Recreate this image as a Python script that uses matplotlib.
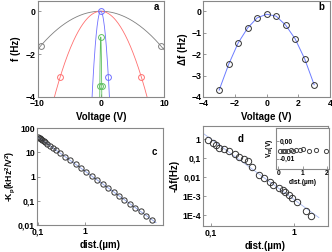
import numpy as np
import matplotlib
matplotlib.use("Agg")
import matplotlib.pyplot as plt
from matplotlib.ticker import FixedLocator, FixedFormatter, NullLocator

plt.rcParams['font.family'] = ['Liberation Sans', 'DejaVu Sans']
plt.rcParams['font.weight'] = 'bold'
plt.rcParams['mathtext.default'] = 'regular'

# ---- panel a data ----
volt_gray = [-9.45, 9.45]
f_gray = [-1.6, -1.6]
volt_red = [-6.45, 6.35]
f_red = [-3.05, -3.05]
volt_blue = [0.0, 1.2]
f_blue = [0.0, -3.05]
volt_green = [0.0, -0.15, 0.15]
f_green = [-1.2, -3.5, -3.5]

# ---- panel b data ----
volt_b = [-3.0, -2.4, -1.8, -1.2, -0.6, 0.0, 0.6, 1.2, 1.8, 2.4, 3.0]
df_b = [-3.68, -2.48, -1.48, -0.78, -0.31, -0.14, -0.23, -0.65, -1.29, -2.22, -3.43]

# ---- panel c data ----
dist_c = [0.1016, 0.1067, 0.1121, 0.1178, 0.1257, 0.134, 0.146, 0.161, 0.180, 0.208,
          0.245, 0.299, 0.375, 0.480, 0.622, 0.809, 1.05, 1.36, 1.77, 2.30,
          2.99, 3.88, 5.04, 6.54, 8.50, 11.0, 14.3, 18.9, 24.9]
kp_c = [42.7, 39.8, 37.1, 34.5, 31.5, 28.6, 25.5, 22.1, 18.8, 15.3,
        12.1, 9.14, 6.59, 4.63, 3.20, 2.20, 1.51, 1.04, 0.716, 0.492,
        0.340, 0.233, 0.161, 0.110, 0.0762, 0.0524, 0.0361, 0.0242, 0.0163]

# ---- panel d data ----
dist_d = [0.091, 0.105, 0.115, 0.126, 0.141, 0.166, 0.196, 0.218, 0.25, 0.275,
          0.31, 0.38, 0.44, 0.51, 0.56, 0.66, 0.73, 0.79, 0.87, 0.96,
          1.09, 1.40, 1.61]
df_d = [0.92, 0.62, 0.48, 0.36, 0.30, 0.25, 0.16, 0.12, 0.089, 0.069,
        0.034, 0.013, 0.0089, 0.0056, 0.0038, 0.0026, 0.0021, 0.0016, 0.0012, 0.00082,
        0.0005, 0.00017, 0.000093]

# ---- inset data ----
dist_in = [0.07, 0.18, 0.29, 0.40, 0.51, 0.62, 0.74, 0.88, 1.04, 1.29, 1.57, 1.96]
vm_in = [-0.0055, -0.0056, -0.0054, -0.0056, -0.0053, -0.0055, -0.0050, -0.0052,
         -0.0047, -0.0057, -0.0050, -0.0058]

W, H = 332, 252
fig = plt.figure(figsize=(W / 100, H / 100), dpi=100)

def box(l, t, r, b):
    return [l / W, 1 - b / H, (r - l) / W, (b - t) / H]

spine_c = '#888888'
TS = 6.3
LS = 7

def style(ax, fs=TS):
    for s in ax.spines.values():
        s.set_color(spine_c)
        s.set_linewidth(0.8)
    ax.tick_params(direction='in', length=2.5, width=0.6, color=spine_c,
                   labelsize=fs, pad=1.5)
    for lab in ax.get_xticklabels() + ax.get_yticklabels():
        lab.set_fontweight('bold')

mk = dict(marker='o', mfc='none', ls='none', mew=0.7)

# ================= panel a =================
axa = fig.add_axes(box(37.5, 0.5, 164, 97))
vv = np.linspace(-10, 10, 400)
cg = np.mean(np.array(f_gray) / np.array(volt_gray) ** 2)
cr = np.mean(np.array(f_red) / np.array(volt_red) ** 2)
cb = f_blue[1] / volt_blue[1] ** 2
pg = np.polyfit(volt_green, f_green, 2)
col_g, col_r, col_b, col_gr = '#7f7f7f', '#ff7070', '#7070ff', '#60c060'
axa.plot(vv, cg * vv ** 2, color=col_g, lw=0.6)
axa.plot(vv, cr * vv ** 2, color=col_r, lw=0.6)
axa.plot(vv, cb * vv ** 2, color=col_b, lw=0.6)
vg = np.linspace(-0.2, 0.2, 200)
axa.plot(vg, np.polyval(pg, vg), color=col_gr, lw=0.6)
axa.plot(volt_gray, f_gray, mec=col_g, ms=4.2, **mk)
axa.plot(volt_red, f_red, mec=col_r, ms=4.2, **mk)
axa.plot(volt_green, f_green, mec=col_gr, ms=4.2, **mk)
axa.plot(volt_blue, f_blue, mec=col_b, ms=4.2, **mk)
axa.set_xlim(-10, 10)
axa.set_ylim(-4, 0.5)
axa.set_xticks([-10, 0, 10])
axa.set_yticks([0, -2, -4])
axa.set_xlabel('Voltage (V)', fontsize=LS, fontweight='bold', labelpad=3)
axa.set_ylabel('f (Hz)', fontsize=LS, fontweight='bold', labelpad=3)
axa.text(0.94, 0.93, 'a', transform=axa.transAxes, ha='center', va='center',
         fontsize=7, fontweight='bold')
style(axa)

# ================= panel b =================
axb = fig.add_axes(box(203.3, 0.5, 330, 97))
axb.plot(volt_b, df_b, color='#6c7cff', lw=0.7)
axb.plot(volt_b, df_b, mec='#333333', ms=4.2, **mk)
axb.set_xlim(-4, 4)
axb.set_ylim(-4, 0.5)
axb.set_xticks([-4, -2, 0, 2, 4])
axb.set_yticks([0, -1, -2, -3, -4])
axb.set_xlabel('Voltage (V)', fontsize=LS, fontweight='bold', labelpad=3)
axb.set_ylabel('Δf (Hz)', fontsize=LS, fontweight='bold', labelpad=2)
axb.text(0.93, 0.93, 'b', transform=axb.transAxes, ha='center', va='center',
         fontsize=7, fontweight='bold')
style(axb)

# ================= panel c =================
axc = fig.add_axes(box(37.3, 128, 163, 225))
axc.set_xscale('log')
axc.set_yscale('log')
pc = np.polyfit(np.log10(dist_c[8:]), np.log10(kp_c[8:]), 1)
xc = np.logspace(np.log10(0.1), np.log10(30), 50)
axc.plot(xc, 10 ** np.polyval(pc, np.log10(xc)), color='#8ca0e8', lw=0.6)
axc.plot(dist_c, kp_c, mec='#333333', ms=3.8, **mk)
axc.set_xlim(0.0985, 42)
axc.set_ylim(0.01, 100)
axc.xaxis.set_major_locator(FixedLocator([0.1, 1]))
axc.xaxis.set_major_formatter(FixedFormatter(['0,1', '1']))
axc.xaxis.set_minor_locator(NullLocator())
axc.yaxis.set_major_locator(FixedLocator([0.01, 0.1, 1, 10, 100]))
axc.yaxis.set_major_formatter(FixedFormatter(['0,01', '0,1', '1', '10', '100']))
axc.yaxis.set_minor_locator(NullLocator())
axc.set_xlabel('dist.(µm)', fontsize=LS, fontweight='bold', labelpad=3)
axc.set_ylabel('-K$_p$(kHz$^2$/V$^2$)', fontsize=6.2, fontweight='bold', labelpad=1)
axc.text(0.93, 0.75, 'c', transform=axc.transAxes, ha='center', va='center',
         fontsize=7, fontweight='bold')
style(axc)

# ================= panel d =================
axd = fig.add_axes(box(202.7, 126, 328.3, 226))
axd.set_xscale('log')
axd.set_yscale('log')
pd_ = np.polyfit(np.log10(dist_d), np.log10(df_d), 1)
xd = np.logspace(np.log10(0.079), np.log10(2.0), 50)
axd.plot(xd, 10 ** np.polyval(pd_, np.log10(xd)), color='#a8b8f0', lw=0.6)
axd.plot(dist_d, df_d, mec='#333333', ms=4.6, **mk)
axd.set_xlim(0.079, 2.6)
axd.set_ylim(2.7e-5, 5)
axd.xaxis.set_major_locator(FixedLocator([0.1, 1]))
axd.xaxis.set_major_formatter(FixedFormatter(['0,1', '1']))
axd.xaxis.set_minor_locator(NullLocator())
axd.yaxis.set_major_locator(FixedLocator([1e-4, 1e-3, 0.01, 0.1, 1]))
axd.yaxis.set_major_formatter(FixedFormatter(['1E-4', '1E-3', '0,01', '0,1', '1']))
axd.yaxis.set_minor_locator(NullLocator())
axd.set_xlabel('dist.(µm)', fontsize=LS, fontweight='bold', labelpad=3)
axd.set_ylabel('-Δf(Hz)', fontsize=LS, fontweight='bold', labelpad=2)
axd.text(0.3, 0.87, 'd', transform=axd.transAxes, ha='center', va='center',
         fontsize=7, fontweight='bold')
style(axd)

# ================= inset =================
axi = fig.add_axes(box(276, 128, 329, 169))
axi.plot(dist_in, vm_in, mec='#444444', ms=3.0, **mk)
axi.set_xlim(-0.1, 2.1)
axi.set_ylim(-0.016, 0.0075)
axi.set_xticks([0, 1, 2])
axi.set_yticks([0.0, -0.01])
axi.set_yticklabels(['0,00', '-0,01'])
axi.set_xlabel('dist.(µm)', fontsize=4.8, fontweight='bold', labelpad=1)
axi.set_ylabel('V$_m$(V)', fontsize=4.8, fontweight='bold', labelpad=1)
style(axi, fs=4.8)
axi.tick_params(axis='y', pad=-3)
axi.tick_params(axis='x', pad=1)
for lab in axi.get_yticklabels():
    lab.set_horizontalalignment('left')

fig.savefig('out.png', dpi=100)
